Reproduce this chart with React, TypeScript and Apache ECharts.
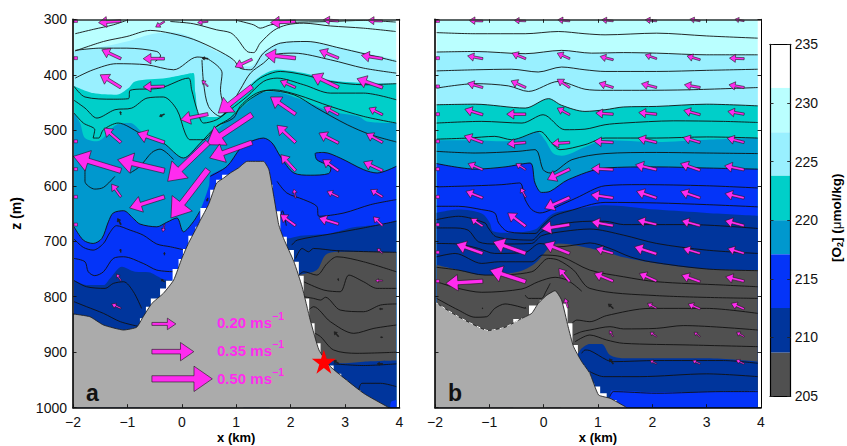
import React, { useEffect, useRef } from "react";
import * as echarts from "echarts";

type P = number[];

const xTicks = { min: -2, max: 4, interval: 1 };
const zTicks = { min: 300, max: 1000, interval: 100 };

const cLight = "#BAFFFF", cMid = "#99F0FF", cTeal = "#00CFC9", cOcean = "#0098CE";
const cBlue = "#0434F8", cDark = "#00359C", cGray = "#505050", cRock = "#ABABAB";
const cPink = "#FF2BEF";

const barBands: [number, number, string][] = [
  [205, 208.7, cGray], [208.7, 212.5, cDark], [212.5, 217.1, cBlue], [217.1, 220, cOcean],
  [220, 223.8, cTeal], [223.8, 227.5, cMid], [227.5, 231.3, cLight], [231.3, 235, "#FFFFFF"],
];
const barTicks = [205, 210, 215, 220, 225, 230, 235];

// Panel a: band boundaries
const aTop: P[] = [[-1.98, 300], [3.94, 300]];
const aMid: P[] = [[-1.98, 357], [-1.44, 349], [-1.01, 340], [-0.52, 326], [-0.15, 324], [0.21, 334], [0.64, 358], [0.89, 367], [1.01, 382], [1.26, 385], [1.5, 358], [1.81, 342], [2.24, 339], [2.91, 351], [3.94, 373]];
const aTeal: P[] = [[-1.98, 420], [-1.63, 433], [-1.2, 436], [-0.98, 424], [-0.86, 412], [-0.28, 406], [0.21, 397], [0.25, 433], [0.34, 475], [0.64, 476], [0.89, 457], [1.2, 424], [1.44, 403], [1.75, 391], [2.24, 397], [2.73, 410], [3.34, 415], [3.94, 416]];
const aOcean: P[] = [[-1.98, 469], [-1.87, 487], [-1.78, 514], [-1.56, 520], [-1.2, 490], [-0.95, 487], [-0.71, 505], [-0.34, 523], [0.03, 550], [0.21, 535], [0.46, 514], [0.89, 478], [1.2, 451], [1.44, 433], [1.69, 430], [2.12, 442], [2.73, 466], [3.25, 475], [3.4, 484], [3.94, 487]];
const aBlue: P[] = [[-1.98, 674], [-1.81, 698], [-1.63, 704], [-1.47, 695], [-1.35, 665], [-1.26, 649], [-1.07, 645], [-0.89, 659], [-0.77, 669], [-0.46, 674], [-0.28, 666], [-0.09, 658], [0.03, 683], [0.21, 665], [0.33, 646], [0.5, 600], [0.52, 583], [0.83, 565], [1.07, 533], [1.2, 523], [1.5, 514], [1.66, 523], [1.81, 547], [2.06, 577], [2.36, 581], [2.7, 578], [2.74, 568], [2.48, 553], [2.45, 542], [2.61, 540], [2.91, 550], [3.34, 571], [3.59, 577], [3.94, 565]];
const aDark: P[] = [[-1.98, 770], [-1.75, 779], [-1.44, 779], [-1.32, 767], [-1.1, 746], [-0.86, 755], [-0.61, 756], [-0.37, 767], [-0.21, 770], [1.81, 695], [1.93, 695], [2.18, 690], [2.73, 686], [3.16, 675], [3.65, 670], [3.94, 662]];
const aGray: P[] = [[2.0, 765], [2.15, 761], [2.48, 752], [2.64, 725], [2.85, 719], [3.94, 720]];
const aUnder: P[] = [[2.42, 905], [2.73, 914], [2.91, 920], [3.34, 917], [3.94, 915]];
const aPatch: P[] = [[3.83, 998], [3.85, 989], [3.94, 986]];
const aRock: P[] = [[-2, 831], [-1.69, 836], [-1.44, 851], [-1.07, 860], [-0.83, 855], [-0.71, 836], [-0.55, 812], [-0.34, 794], [-0.15, 770], [0, 731], [0.12, 704], [0.28, 674], [0.34, 662], [0.49, 634], [0.64, 595], [0.77, 586], [0.89, 577], [1.04, 568], [1.2, 556], [1.5, 556], [1.6, 571], [1.69, 619], [1.78, 670], [1.87, 695], [2.06, 737], [2.21, 782], [2.36, 842], [2.52, 896], [2.73, 926], [3.34, 974], [3.77, 998], [3.8, 1000]];
const aStepsUp: P[] = [[-0.77, 839], [-0.66, 818], [-0.57, 803], [-0.4, 785], [-0.29, 771], [-0.17, 750], [-0.06, 732], [0.02, 714], [0.12, 690], [0.25, 674], [0.34, 640], [0.52, 607], [0.63, 589], [0.74, 580], [0.95, 577], [1.13, 558]];
const aStepsDown: P[] = [[1.61, 562], [1.67, 598], [1.81, 646], [1.93, 692], [2.06, 716], [2.15, 737], [2.24, 762], [2.34, 803], [2.44, 848], [2.55, 884], [2.79, 924], [2.93, 939], [3.04, 950], [3.28, 968], [3.59, 989], [3.77, 999]];

const aContours: P[][] = [
  [[-1.96, 326], [-1.62, 318], [-1.26, 310], [-0.99, 301]],
  [[-0.21, 304], [0.21, 308], [0.64, 319], [0.89, 324], [1.01, 334], [1.2, 358], [1.32, 360], [1.44, 343], [1.69, 320], [1.93, 310], [2.24, 307], [2.73, 312], [3.34, 316], [3.93, 322]],
  [[1.01, 302], [1.32, 310], [1.44, 316], [1.63, 310], [1.93, 306], [2.73, 304], [3.34, 302], [3.93, 305]],
  [[-1.96, 357], [-1.44, 340], [-1.01, 331], [-0.58, 320], [-0.21, 325], [0.21, 336], [0.64, 355], [0.95, 373], [1.07, 388], [1.26, 391], [1.5, 361], [1.81, 343], [2.3, 340], [2.91, 352], [3.94, 376]],
  [[-1.96, 356], [-1.5, 352], [-1.01, 352], [-0.46, 358], [-0.39, 366], [-0.49, 376]],
  [[-1.96, 406], [-1.63, 391], [-1.2, 380], [-0.64, 382], [-0.15, 391], [0.28, 368], [0.49, 372], [0.74, 397], [0.71, 427], [0.83, 463], [1.07, 427], [1.26, 397], [1.5, 379], [1.69, 364], [2.06, 361], [2.73, 373], [3.34, 388], [3.94, 397]],
  [[0.37, 373], [0.4, 415], [0.49, 457], [0.71, 475], [0.89, 457], [1.2, 427], [1.44, 406], [1.81, 394], [2.24, 400], [2.73, 412], [3.34, 418], [3.94, 416]],
  [[-1.98, 421], [-1.78, 440], [-1.26, 444], [-0.98, 443], [-0.95, 428], [-0.4, 424], [0.12, 406], [0.18, 427], [0.28, 463], [0.4, 487], [0.64, 481], [0.89, 463], [1.2, 439], [1.5, 412], [1.75, 406], [2.24, 418], [2.73, 433], [3.34, 433], [3.94, 445]],
  [[-1.98, 446], [-1.78, 460], [-1.56, 478], [-1.23, 463], [-0.92, 460], [-0.64, 442], [-0.34, 440], [-0.09, 463], [0.06, 505], [0.15, 517], [0.4, 517], [0.64, 493], [0.89, 478], [1.2, 448], [1.5, 430], [1.69, 427], [2.12, 436], [2.73, 457], [3.34, 475], [3.94, 487]],
  [[-1.98, 469], [-1.81, 487], [-1.6, 499], [-1.63, 514], [-1.53, 514], [-1.44, 499], [-1.17, 487], [-0.77, 505], [-0.34, 523], [0.03, 550], [0.34, 523], [0.64, 493], [0.95, 478], [1.07, 457], [1.32, 436], [1.56, 428], [2.06, 436], [2.48, 460], [3.04, 490], [3.47, 508], [3.94, 521]],
  [[-1.78, 571], [-1.78, 592], [-1.6, 606], [-1.44, 603], [-1.23, 583]],
  [[-0.95, 577], [-0.77, 565], [-0.55, 540], [-0.4, 534], [-0.15, 553]],
  [[-1.98, 674], [-1.81, 698], [-1.63, 704], [-1.47, 695], [-1.35, 665], [-1.26, 649], [-1.07, 645], [-0.89, 659], [-0.77, 669], [-0.46, 674], [-0.28, 666], [-0.09, 658], [0.03, 683], [0.21, 665], [0.33, 646]],
  [[0.52, 583], [0.83, 565], [1.07, 533], [1.2, 523], [1.5, 514], [1.66, 523], [1.81, 547], [2.06, 577], [2.36, 581], [2.7, 578], [2.74, 568], [2.48, 553], [2.45, 542], [2.61, 540], [2.91, 550], [3.34, 571], [3.59, 577], [3.94, 565]],
  [[1.75, 592], [1.93, 613], [2.24, 625], [2.48, 637], [2.52, 655], [2.98, 649], [3.47, 634], [3.94, 625]],
  [[1.78, 675], [1.85, 645], [1.92, 672]],
  [[2.02, 707], [2.12, 698], [2.73, 687], [3.34, 676], [3.94, 664]],
  [[2.09, 731], [2.21, 713], [2.33, 719], [2.42, 713], [2.85, 717], [3.94, 720]],
  [[2.15, 761], [2.24, 755], [2.48, 761], [2.67, 740], [2.85, 728], [3.34, 737], [3.94, 755]],
  [[2.24, 773], [2.61, 788], [2.91, 791], [3.07, 761], [3.34, 773], [3.59, 785], [3.94, 785]],
  [[2.24, 800], [2.42, 803], [2.55, 806], [2.64, 801], [2.91, 824], [3.34, 827], [3.65, 815], [3.94, 813]],
  [[2.33, 824], [2.42, 818], [2.73, 845], [3.16, 866], [3.53, 857], [3.94, 851]],
  [[2.45, 866], [2.55, 872], [2.79, 896], [3.22, 902], [3.94, 900]],
  [[2.79, 921], [3.34, 924], [3.94, 921]],
  [[3.25, 968], [3.31, 956], [3.65, 956], [3.94, 962]],
  [[-1.98, 696], [-1.81, 711], [-1.63, 716], [-1.44, 704], [-1.32, 684], [-1.2, 672], [-0.95, 680], [-0.71, 689], [-0.46, 705], [-0.21, 710], [0.06, 716]],
  [[-1.98, 731], [-1.78, 737], [-1.72, 755], [-1.6, 762], [-1.44, 755], [-1.26, 731], [-1.07, 728], [-0.71, 740], [-0.46, 752], [-0.15, 755]],
  [[-1.98, 771], [-1.75, 782], [-1.41, 785], [-1.26, 776], [-1.07, 773], [-0.89, 791], [-0.74, 821]],
  [[-1.98, 809], [-1.75, 818], [-1.44, 830], [-1.13, 845], [-0.77, 854]],
];

// tail x, tail z, tip x, tip z
const aArrows: P[] = [
  [-1.12, 303, -1.53, 306], [-0.32, 304, -0.48, 314], [0.48, 304, 0.29, 306], [2.09, 304, 1.63, 306], [2.88, 303, 2.6, 301], [3.69, 303, 3.42, 302],
  [-1.12, 371, -1.47, 355], [-0.32, 371, -0.71, 371], [0.48, 371, 0.37, 370], [1.29, 372, 0.98, 386], [2.09, 370, 1.53, 364], [2.88, 370, 2.53, 356], [3.69, 371, 3.3, 365],
  [-1.12, 423, -1.5, 400], [-0.32, 421, -0.71, 422], [0.48, 421, 0.37, 410], [1.29, 421, 0.67, 469], [2.09, 423, 1.81, 411], [2.88, 423, 2.39, 400], [3.69, 423, 3.22, 407],
  [-1.12, 472, -1.13, 466], [-0.32, 471, -0.41, 475], [0.48, 471, -0.02, 481], [1.29, 472, 0.46, 526], [2.09, 471, 1.63, 440], [2.88, 472, 2.61, 458], [3.69, 472, 3.44, 460],
  [-1.12, 522, -1.43, 496], [-0.32, 522, -0.82, 505], [0.48, 522, -0.26, 592], [1.29, 522, 0.51, 550], [2.09, 522, 1.75, 491], [2.88, 523, 2.52, 505], [3.69, 522, 3.39, 506],
  [-1.12, 573, -1.99, 547], [-0.32, 573, -1.18, 553], [0.48, 571, -0.2, 658], [2.09, 573, 1.82, 544], [2.88, 573, 2.59, 553], [3.69, 573, 3.34, 557],
  [-1.12, 620, -1.29, 597], [-0.32, 620, -0.96, 640], [0.48, 622, 0.46, 628], [2.09, 622, 2.06, 606], [2.88, 620, 2.67, 610], [3.69, 620, 3.47, 607],
  [-1.12, 670, -1.18, 659], [-0.32, 670, -0.35, 683], [2.09, 672, 1.81, 652], [2.88, 669, 2.52, 658], [3.69, 672, 3.52, 656],
  [-1.12, 720, -1.13, 714], [-0.32, 725, -0.32, 720], [2.88, 720, 2.88, 716], [3.69, 722, 3.59, 713],
  [-1.12, 771, -1.2, 759], [-0.32, 773, -0.38, 769], [2.88, 771, 2.87, 767], [3.69, 771, 3.56, 771],
  [-1.12, 821, -1.29, 813], [3.69, 822, 3.63, 822],
  [2.88, 872, 2.8, 863], [3.69, 873, 3.65, 873],
  [2.88, 920, 2.79, 915], [3.69, 921, 3.59, 921],
];
const aStubs = [303, 370, 520, 570, 620, 670];
const legendArrows: P[] = [[-0.55, 849, -0.11, 849], [-0.55, 899, 0.22, 899], [-0.55, 948, 0.56, 948]];
const legendTexts = ["0.20", "0.35", "0.50"];
const starPoint: P[] = [[2.61, 917]];

// Panel b
const bTop: P[] = [[-1.97, 300], [3.94, 300]];
const bMid: P[] = [[-1.97, 359], [-1.26, 358], [-0.34, 362], [0.33, 356], [0.88, 361], [1.47, 360], [2.08, 361], [3, 364], [3.94, 364]];
const bTeal: P[] = [[-1.97, 454], [-1.26, 453], [-0.34, 460], [0.09, 443], [0.33, 455], [0.76, 466], [1.13, 463], [1.47, 458], [2.08, 457], [3, 453], [3.94, 456]];
const bOcean: P[] = [[-1.97, 518], [-1.39, 518], [-0.71, 520], [-0.34, 511], [-0.13, 502], [0.02, 517], [0.18, 542], [0.33, 546], [0.76, 530], [1.13, 518], [2.08, 521], [3, 517], [3.94, 514]];
const bBlue: P[] = [[-1.97, 560], [-1.26, 570], [-0.71, 566], [-0.25, 559], [-0.16, 595], [-0.04, 612], [0.12, 610], [0.45, 589], [1.13, 568], [2.08, 566], [3, 568], [3.94, 570]];
const bDark: P[] = [[-1.97, 649], [-1.57, 643], [-1.14, 650], [-0.99, 667], [-0.93, 682], [-0.59, 685], [-0.16, 679], [-0.02, 667], [0.18, 650], [0.58, 642], [1.13, 635], [2.08, 643], [3, 649], [3.94, 654]];
const bGray: P[] = [[-1.97, 743], [-1.57, 752], [-1.14, 761], [-0.47, 755], [-0.16, 740], [0.09, 713], [0.27, 704], [0.58, 707], [1.13, 719], [1.47, 729], [2.08, 740], [3, 750], [3.94, 752]];
const bUnder: P[] = [[0.4, 940], [0.64, 902], [0.7, 893], [0.85, 885], [1.07, 885], [1.22, 905], [1.47, 911], [3, 911], [3.94, 917]];
const bPatch: P[] = [[1.22, 980], [1.25, 969], [2.08, 972], [3.31, 971], [3.94, 969]];
const bRock: P[] = [[-2, 810], [-1.57, 836], [-1.02, 861], [-0.71, 855], [-0.4, 839], [-0.22, 830], [-0.1, 812], [0.06, 797], [0.21, 789], [0.33, 806], [0.45, 854], [0.55, 890], [0.7, 917], [0.85, 938], [1.01, 977], [1.22, 983], [1.5, 998], [1.53, 1000]];
const bStepsUp: P[] = [[-0.56, 840], [-0.27, 816], [-0.07, 806], [0.04, 791]];
const bStepsDown: P[] = [[0.32, 791], [0.44, 812], [0.53, 848], [0.63, 887], [0.75, 923], [0.85, 936], [0.93, 956], [1.04, 962], [1.16, 974], [1.34, 986]];
const bSlopeDash: P[] = [[-2, 810], [-1.57, 836], [-1.02, 861], [-0.71, 855], [-0.4, 839]];

const bContours: P[][] = [
  [[-1.97, 324], [-1.26, 326], [-0.34, 326], [0.27, 322], [0.76, 326], [1.13, 328], [2.08, 325], [3, 330], [3.94, 334]],
  [[-1.97, 359], [-1.26, 358], [-0.34, 362], [0.33, 356], [0.88, 361], [1.47, 360], [2.08, 361], [3, 364], [3.94, 364]],
  [[-1.97, 393], [-1.26, 391], [-0.59, 390], [-0.1, 395], [0.33, 386], [0.76, 391], [1.13, 394], [2.08, 394], [3, 392], [3.94, 390]],
  [[-1.97, 424], [-1.26, 416], [-0.65, 420], [-0.28, 430], [0.27, 412], [0.76, 426], [1.13, 428], [1.77, 428], [2.69, 427], [3.94, 423]],
  [[-1.97, 454], [-1.26, 453], [-0.34, 460], [0.09, 443], [0.33, 455], [0.76, 466], [1.13, 463], [1.47, 458], [2.08, 457], [3, 453], [3.94, 456]],
  [[-1.97, 487], [-1.14, 484], [-0.4, 487], [-0.01, 472], [0.39, 499], [0.76, 498], [1.13, 490], [1.47, 487], [2.39, 483], [3.31, 484], [3.94, 486]],
  [[-1.97, 516], [-1.39, 514], [-0.9, 511], [-0.59, 517], [-0.07, 502], [0.15, 523], [0.3, 535], [0.76, 526], [1.13, 514], [2.08, 514], [3, 512], [3.94, 514]],
  [[-1.97, 538], [-1.26, 541], [-0.47, 538], [-0.16, 535], [-0.1, 541], [-0.01, 571], [0.12, 577], [0.52, 553], [1.13, 542], [2.08, 540], [3, 541], [3.94, 542]],
  [[-1.97, 560], [-1.26, 570], [-0.71, 566], [-0.25, 559], [-0.16, 595], [-0.04, 612], [0.12, 610], [0.45, 589], [1.13, 568], [2.08, 566], [3, 568], [3.94, 570]],
  [[-1.97, 602], [-1.26, 600], [-0.77, 598], [-0.44, 595], [-0.34, 625], [-0.22, 643], [-0.07, 649], [0.33, 634], [0.6, 622], [1.13, 600], [1.77, 598], [3, 600], [3.94, 604]],
  [[-1.97, 637], [-1.57, 637], [-1.14, 643], [-0.9, 649], [-0.83, 667], [-0.65, 683], [-0.16, 686], [-0.01, 671], [0.18, 655], [0.45, 646], [1.13, 630], [2.08, 631], [3, 634], [3.94, 638]],
  [[-1.97, 661], [-1.57, 655], [-1.08, 667], [-1.02, 676], [-0.87, 692], [-0.22, 698], [-0.04, 683], [0.27, 670], [0.85, 664], [1.13, 664], [1.47, 670], [2.69, 670], [3.94, 677]],
  [[-1.97, 676], [-1.69, 676], [-1.39, 680], [-1.2, 701], [-0.87, 705], [-0.22, 704], [-0.04, 690], [0.39, 682], [0.85, 678], [1.47, 689], [2.08, 704], [3, 716], [3.94, 722]],
  [[-1.97, 704], [-1.57, 705], [-1.2, 713], [-0.9, 722], [-0.34, 720], [-0.07, 704], [0.27, 710], [0.7, 705], [0.85, 703], [1.22, 713], [1.59, 728], [1.96, 737], [3, 750], [3.94, 753]],
  [[-1.97, 728], [-1.63, 722], [-1.14, 740], [-0.83, 737], [-0.22, 737], [-0.02, 725], [0.33, 728], [0.85, 752], [1.47, 764], [2.08, 773], [3.31, 779], [3.94, 782]],
  [[-1.97, 747], [-1.57, 752], [-1.08, 761], [-0.22, 755], [0.09, 731], [0.27, 734], [0.55, 752], [0.85, 785], [2.08, 798], [3.94, 803]],
  [[-1.97, 773], [-1.57, 785], [-1.14, 792], [-0.4, 786], [-0.1, 773], [0.21, 765], [0.45, 771], [0.7, 790]],
  [[-0.34, 797], [-0.28, 803], [-0.04, 803], [0.04, 791], [0.12, 776]],
  [[-1.97, 803], [-1.57, 824], [-1.26, 837], [-1.05, 836], [-0.9, 821], [-0.71, 813], [-0.34, 821]],
  [[0.52, 848], [0.61, 842], [0.85, 845], [1.16, 834], [1.96, 821], [3, 821], [3.94, 830]],
  [[0.55, 869], [0.7, 863], [0.85, 860], [1.22, 854], [1.47, 858], [2.08, 857], [2.57, 852], [3.94, 860]],
  [[0.58, 881], [0.85, 869], [1.16, 878], [1.47, 884], [2.69, 887], [3.94, 890]],
  [[0.7, 902], [0.76, 896], [0.85, 897], [1.16, 914], [1.28, 917], [2.08, 915], [3.31, 915], [3.94, 920]],
  [[0.85, 935], [1.1, 944], [1.77, 944], [3, 939], [3.94, 944]],
  [[1.22, 980], [1.28, 971], [2.08, 974], [3.31, 971], [3.94, 971]],
];

const bArrows: P[] = [
  [-1.12, 303, -1.37, 302], [-0.33, 303, -0.54, 302], [0.48, 303, 0.26, 301], [1.28, 303, 1.07, 301], [2.08, 303, 1.87, 301], [2.88, 303, 2.69, 300], [3.69, 303, 3.52, 300],
  [-1.12, 371, -1.4, 366], [-0.33, 371, -0.58, 361], [0.48, 371, 0.25, 361], [1.28, 373, 1.04, 367], [2.08, 371, 1.87, 364], [2.88, 373, 2.64, 366], [3.69, 371, 3.42, 370],
  [-1.12, 423, -1.4, 415], [-0.33, 423, -0.6, 411], [0.48, 423, 0.25, 408], [1.28, 423, 1.02, 415], [2.08, 423, 1.8, 416], [2.88, 423, 2.59, 418], [3.69, 423, 3.41, 418],
  [-1.12, 472, -1.45, 462], [-0.33, 471, -0.68, 471], [0.48, 472, 0.25, 460], [1.28, 471, 0.96, 469], [2.08, 471, 1.75, 468], [2.88, 472, 2.58, 464], [3.69, 471, 3.39, 466],
  [-1.12, 522, -1.46, 510], [-0.33, 522, -0.67, 525], [0.48, 522, 0.15, 524], [1.28, 522, 0.93, 520], [2.08, 522, 1.74, 514], [2.88, 522, 2.57, 513], [3.69, 522, 3.38, 514],
  [-1.12, 571, -1.39, 560], [-0.33, 571, -0.51, 560], [0.48, 570, 0.07, 589], [1.28, 571, 0.88, 569], [2.08, 571, 1.69, 562], [2.88, 572, 2.52, 560], [3.69, 571, 3.33, 564],
  [-1.12, 622, -1.43, 610], [-0.33, 621, -0.42, 604], [0.48, 621, 0.02, 641], [1.28, 622, 0.87, 616], [2.08, 622, 1.71, 610], [2.88, 622, 2.52, 610], [3.69, 622, 3.34, 614],
  [-1.12, 673, -1.34, 659], [-0.33, 673, -0.66, 649], [0.48, 670, -0.04, 678], [1.28, 672, 0.88, 665], [2.08, 670, 1.73, 662], [2.88, 672, 2.54, 663], [3.69, 672, 3.34, 663],
  [-1.12, 722, -1.61, 705], [-0.33, 722, -0.93, 701], [0.48, 722, 0.01, 704], [1.28, 722, 0.96, 713], [2.08, 723, 1.67, 710], [2.88, 722, 2.57, 713], [3.69, 722, 3.39, 713],
  [-1.12, 772, -1.8, 776], [-0.33, 773, -0.99, 752], [0.48, 773, 0.28, 749], [1.28, 772, 0.93, 758], [2.08, 772, 1.76, 758], [2.88, 773, 2.54, 761], [3.69, 772, 3.35, 764],
  [0.45, 820, 0.39, 803], [1.28, 821, 1.19, 813], [2.08, 821, 1.91, 812], [2.88, 822, 2.66, 813], [3.69, 822, 3.45, 812],
  [1.28, 872, 1.21, 861], [2.08, 872, 1.96, 864], [2.88, 872, 2.77, 864], [3.69, 872, 3.55, 864],
  [1.28, 921, 1.21, 912], [2.08, 921, 1.96, 915], [2.88, 921, 2.74, 915], [3.69, 921, 3.54, 914],
  [-1.12, 822, -1.13, 820], [-0.33, 821, -0.34, 819],
];
const bStubs = [303, 370, 421, 471, 520, 570, 620, 670, 720, 772];

const STAR = "path://M50 0 L61.8 36.3 L100 36.3 L69.1 58.8 L80.9 95.1 L50 72.7 L19.1 95.1 L30.9 58.8 L0 36.3 L38.2 36.3 Z";

function renderArrow(_p: any, api: any) {
  const t = api.coord([api.value(0), api.value(1)]);
  const h = api.coord([api.value(2), api.value(3)]);
  const dx = h[0] - t[0], dy = h[1] - t[1];
  const L = Math.hypot(dx, dy) || 1;
  const ux = dx / L, uy = dy / L, nx = -uy, ny = ux;
  const k = Math.min(1, L / 14);
  const hl = 0.27 * L + 2 * k, hw = 0.19 * L + 1.2 * k, sw = 0.045 * L + 0.4 * k;
  const bx = h[0] - ux * hl, by = h[1] - uy * hl;
  return {
    type: "polygon",
    shape: { points: [
      [t[0] + nx * sw, t[1] + ny * sw], [bx + nx * sw, by + ny * sw], [bx + nx * hw, by + ny * hw], h,
      [bx - nx * hw, by - ny * hw], [bx - nx * sw, by - ny * sw], [t[0] - nx * sw, t[1] - ny * sw],
    ] },
    style: { fill: L < 7 ? "#222" : cPink, stroke: "#1a1a1a", lineWidth: 0.6 },
  };
}

function renderStub(_p: any, api: any) {
  const c = api.coord([-2, api.value(0)]);
  return { type: "rect", shape: { x: c[0] + 1, y: c[1] - 1.5, width: 3.5, height: 3 }, style: { fill: cPink, stroke: "#222", lineWidth: 0.5 } };
}

function renderBand(_p: any, api: any) {
  const a = api.coord([0, api.value(0)]);
  const b = api.coord([1, api.value(1)]);
  return { type: "rect", shape: { x: a[0], y: b[1], width: b[0] - a[0], height: a[1] - b[1] }, style: { fill: barBands[api.value(2)][2] } };
}

function area(ax: number, data: P[], color: string, extra: any = {}) {
  return {
    type: "line", xAxisIndex: ax, yAxisIndex: ax, data, smooth: 0.3, symbol: "none", silent: true, z: 2,
    lineStyle: { width: 0 }, areaStyle: { color, opacity: 1, origin: "end" }, ...extra,
  };
}

function contour(ax: number, data: P[]) {
  return {
    type: "line", xAxisIndex: ax, yAxisIndex: ax, data, smooth: 0.3, symbol: "none", silent: true, z: 3,
    lineStyle: { color: "#111", width: 0.9 },
  };
}

function arrows(ax: number, data: P[]) {
  return { type: "custom", xAxisIndex: ax, yAxisIndex: ax, data, renderItem: renderArrow, silent: true, z: 7, encode: { x: [0, 2], y: [1, 3] } };
}

const FONT = "'Liberation Sans', Arial, sans-serif";
const fmt = (v: number) => String(v).replace("-", "\u2212");

function axes(grid: number, name: boolean) {
  const line = (w: number, c = "#000") => ({ show: true, onZero: false, lineStyle: { color: c, width: w } });
  const tick = { show: true, inside: true, length: 3.5, lineStyle: { color: "#111", width: 0.9 } };
  const x = [
    { type: "value", gridIndex: grid, position: "bottom", ...xTicks, z: 9, axisLine: line(1.6), axisTick: tick, splitLine: { show: false },
      axisLabel: { color: "#111", fontFamily: FONT, fontSize: 14, margin: 7, formatter: fmt },
      name: "x (km)", nameLocation: "middle", nameGap: 23, nameMoveOverlap: false, nameTextStyle: { color: "#000", fontFamily: FONT, fontSize: 13, fontWeight: "bold" } },
    { type: "value", gridIndex: grid, position: "top", ...xTicks, z: 9, axisLine: line(1.6, "#333"), axisTick: tick, axisLabel: { show: false }, splitLine: { show: false } },
  ];
  const y = [
    { type: "value", gridIndex: grid, position: "left", inverse: true, ...zTicks, z: 9, axisLine: line(1.6), axisTick: tick, splitLine: { show: false },
      axisLabel: { show: name, color: "#111", fontFamily: FONT, fontSize: 14, margin: 6, formatter: (v: number) => String(v) },
      ...(name ? { name: "z (m)", nameLocation: "middle", nameGap: 50, nameTextStyle: { color: "#000", fontFamily: FONT, fontSize: 14, fontWeight: "bold" } } : {}) },
    { type: "value", gridIndex: grid, position: "right", inverse: true, ...zTicks, z: 9, axisLine: line(1), axisTick: tick, axisLabel: { show: false }, splitLine: { show: false } },
  ];
  return { x, y };
}

function panelSeries(ax: number, p: any) {
  const list: any[] = [
    area(ax, p.top, cLight), area(ax, p.mid, cMid), area(ax, p.teal, cTeal), area(ax, p.ocean, cOcean),
    area(ax, p.blue, cBlue), area(ax, p.dark, cDark), area(ax, p.gray, cGray), area(ax, p.under, cDark), area(ax, p.patch, cBlue),
    ...p.contours.map((c: P[]) => contour(ax, c)),
    area(ax, p.stepsUp, "#FFFFFF", { smooth: false, step: "end", z: 4 }),
    area(ax, p.stepsDown, "#FFFFFF", { smooth: false, step: "start", z: 4 }),
    area(ax, p.rock, cRock, { smooth: 0.15, z: 5, lineStyle: { color: "#222", width: 0.9 } }),
    { type: "custom", xAxisIndex: ax, yAxisIndex: ax, data: p.stubs.map((z: number) => [z]), renderItem: renderStub, silent: true, z: 7, encode: { y: 0 } },
    arrows(ax, p.arrows),
  ];
  return list;
}

export default function App() {
  const ref = useRef<HTMLDivElement>(null);
  useEffect(() => {
    const chart = echarts.init(ref.current!, null, { renderer: "svg" });
    const A = axes(0, true), B = axes(1, false);
    const barLine = { show: true, onZero: false, lineStyle: { color: "#000", width: 1.2 } };
    const barTick = { show: true, inside: true, length: 3.5, lineStyle: { color: "#222", width: 0.9 } };
    const barX = (position: string) => ({ type: "value", gridIndex: 2, position, min: 0, max: 1, z: 9, axisLine: barLine, axisTick: { show: false }, axisLabel: { show: false }, splitLine: { show: false } });
    const barY = (position: string, labels: boolean) => ({
      type: "value", gridIndex: 2, position, min: barTicks[0], max: barTicks[barTicks.length - 1], interval: 5, z: 9,
      axisLine: barLine, axisTick: barTick, splitLine: { show: false },
      axisLabel: { show: labels, color: "#111", fontFamily: FONT, fontSize: 14, margin: 4 },
    });
    const legendText = (label: string, y: number) => ({
      type: "text", x: 217, y,
      style: {
        text: `{t|${label} ms}{s|\u22121}`, fontFamily: FONT,
        rich: {
          t: { fill: cPink, fontFamily: FONT, fontSize: 15, fontWeight: "bold", verticalAlign: "bottom", lineHeight: 20 },
          s: { fill: cPink, fontFamily: FONT, fontSize: 10.5, fontWeight: "bold", verticalAlign: "top", lineHeight: 20 },
        },
      },
    });
    chart.setOption({
      animation: false,
      backgroundColor: "#fff",
      grid: [
        { left: 73, top: 19.3, width: 326.5, height: 388.4, outerBoundsMode: "none" },
        { left: 435, top: 19.3, width: 326, height: 388.4, outerBoundsMode: "none" },
        { left: 770, top: 44.3, width: 20.7, height: 351.7, outerBoundsMode: "none" },
      ],
      xAxis: [...A.x, ...B.x, barX("bottom"), barX("top")],
      yAxis: [...A.y, ...B.y, barY("left", false), barY("right", true)],
      series: [
        ...panelSeries(0, { top: aTop, mid: aMid, teal: aTeal, ocean: aOcean, blue: aBlue, dark: aDark, gray: aGray, under: aUnder, patch: aPatch, contours: aContours, stepsUp: aStepsUp, stepsDown: aStepsDown, rock: aRock, stubs: aStubs, arrows: aArrows }),
        arrows(0, legendArrows),
        { type: "scatter", xAxisIndex: 0, yAxisIndex: 0, data: starPoint, symbol: STAR, symbolSize: 24, itemStyle: { color: "#FF0000", opacity: 1 }, silent: true, z: 8 },
        ...panelSeries(2, { top: bTop, mid: bMid, teal: bTeal, ocean: bOcean, blue: bBlue, dark: bDark, gray: bGray, under: bUnder, patch: bPatch, contours: bContours, stepsUp: bStepsUp, stepsDown: bStepsDown, rock: bRock, stubs: bStubs, arrows: bArrows }),
        { type: "line", xAxisIndex: 2, yAxisIndex: 2, data: bSlopeDash, smooth: 0.15, symbol: "none", silent: true, z: 6, lineStyle: { color: "#fff", width: 1, type: [4, 4] } },
        { type: "custom", xAxisIndex: 4, yAxisIndex: 4, data: barBands.map((b, i) => [b[0], b[1], i]), renderItem: renderBand, silent: true, encode: { y: [0, 1] } },
      ],
      graphic: [
        { type: "text", x: 86, y: 381, style: { text: "a", fontFamily: FONT, fontSize: 23, fontWeight: "bold", fill: "#111" }, z: 10 },
        { type: "text", x: 448, y: 381, style: { text: "b", fontFamily: FONT, fontSize: 23, fontWeight: "bold", fill: "#111" }, z: 10 },
        { ...legendText(legendTexts[0], 310), z: 10 },
        { ...legendText(legendTexts[1], 338), z: 10 },
        { ...legendText(legendTexts[2], 366), z: 10 },
        {
          type: "text", x: 829, y: 262, rotation: Math.PI / 2, z: 10,
          style: {
            text: "{b|[O}{s|2}{b|] (}{m|\u03BC}{b|mol/kg)}",
            rich: {
              b: { fill: "#000", fontFamily: FONT, fontSize: 13.5, fontWeight: "bold" },
              s: { fill: "#000", fontFamily: FONT, fontSize: 9, fontWeight: "bold", verticalAlign: "bottom", padding: [6, 0, 0, 0] },
              m: { fill: "#000", fontFamily: FONT, fontSize: 13.5 },
            },
          },
        },
      ],
    });
    return () => chart.dispose();
  }, []);
  return <div ref={ref} style={{ position: "fixed", left: 0, top: 0, width: 847, height: 446 }} />;
}
